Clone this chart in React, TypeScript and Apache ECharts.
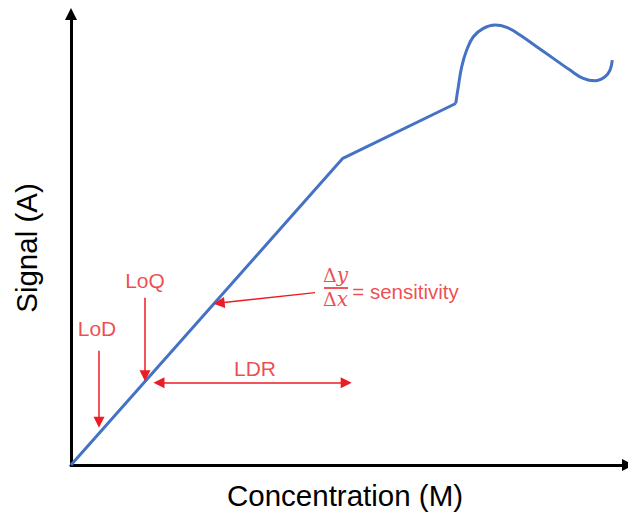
import React, { useEffect, useRef } from "react";
import * as echarts from "echarts";

// Response curve (arbitrary units, 0..100 on both axes)
const linearPart: [number, number][] = [
  [0, 0],
  [48.8, 68],
  [69.07, 80.16],
];
const curvedPart: [number, number][] = [
  [69.07, 80.16],
  [69.53, 83.84],
  [70.14, 88.29],
  [71.04, 92.0],
  [72.23, 94.96],
  [74.02, 96.82],
  [76.12, 97.56],
  [78.22, 97.04],
  [80.61, 95.33],
  [83.61, 92.73],
  [86.59, 90.16],
  [89.59, 87.56],
  [91.97, 85.71],
  [94.08, 85.18],
  [95.87, 86.07],
  [96.77, 87.56],
  [97.18, 89.78],
];

// Annotation arrows: [from, to(tip)]
const singleArrows: [number, number][][] = [
  [[5.03, 25.33], [5.03, 9.5]],
  [[13.29, 37.11], [13.29, 19.8]],
  [[43.81, 38.22], [26.6, 35.9]],
];
const doubleArrow: [number, number][] = [
  [15.8, 18.22],
  [49.4, 18.22],
];
const fractionBar: [number, number][] = [
  [45.42, 39.33],
  [49.73, 39.33],
];

// Annotation labels
const centerLabels = [
  { name: "LoD", pos: [4.67, 30.22] },
  { name: "LoQ", pos: [13.29, 40.89] },
  { name: "LDR", pos: [33.03, 21.33] },
];
const fractionNumerator = { sym: "Δ", v: "y", pos: [47.5, 42.2] };
const fractionDenominator = { sym: "Δ", v: "x", pos: [47.5, 36.9] };
const sensitivityLabel = { text: "= sensitivity", pos: [50.5, 38.4] };

const xName = "Concentration (M)";
const yName = "Signal (A)";

const RED = "#EC1C24";
const BLUE = "#4472C4";
const FONT = "'Liberation Sans', Arial, sans-serif";

export default function App() {
  const ref = useRef<HTMLDivElement>(null);
  useEffect(() => {
    if (!ref.current) return;
    const chart = echarts.init(ref.current, undefined, { renderer: "svg" });
    const axisCommon = {
      type: "value" as const,
      min: 0,
      max: 100,
      splitLine: { show: false },
      axisTick: { show: false },
      axisLabel: { show: false },
      axisLine: {
        show: true,
        symbol: ["none", "triangle"],
        symbolSize: [12, 12],
        lineStyle: { color: "#000", width: 3 },
      },
    };
    chart.setOption({
      animation: false,
      backgroundColor: "#fff",
      grid: { left: 71, right: 0, top: 14, bottom: 48 },
      xAxis: { ...axisCommon },
      yAxis: { ...axisCommon },
      graphic: [
        {
          type: "text",
          x: 345,
          y: 495,
          style: {
            text: xName,
            fill: "#000",
            fontSize: 29.5,
            fontFamily: FONT,
            align: "center",
            verticalAlign: "middle",
          },
        },
        {
          type: "text",
          x: 26,
          y: 248,
          rotation: Math.PI / 2,
          style: {
            text: yName,
            fill: "#000",
            fontSize: 29.5,
            fontFamily: FONT,
            align: "center",
            verticalAlign: "middle",
          },
        },
      ],
      series: [
        {
          type: "line",
          data: linearPart,
          symbol: "none",
          lineStyle: { color: BLUE, width: 3 },
          z: 3,
        },
        {
          type: "line",
          data: curvedPart,
          smooth: 0.4,
          symbol: "none",
          lineStyle: { color: BLUE, width: 3 },
          z: 3,
        },
        {
          type: "line",
          data: [],
          markLine: {
            silent: true,
            symbol: ["none", "triangle"],
            symbolSize: 11,
            label: { show: false },
            lineStyle: { color: RED, width: 1.5, type: "solid" },
            data: singleArrows.map((a) => [{ coord: a[0] }, { coord: a[1] }]),
          },
        },
        {
          type: "line",
          data: [],
          markLine: {
            silent: true,
            symbol: ["triangle", "triangle"],
            symbolSize: 11,
            label: { show: false },
            lineStyle: { color: RED, width: 1.5, type: "solid" },
            data: [[{ coord: doubleArrow[0] }, { coord: doubleArrow[1] }]],
          },
        },
        {
          type: "line",
          data: [],
          markLine: {
            silent: true,
            symbol: ["none", "none"],
            label: { show: false },
            lineStyle: { color: RED, width: 1.5, type: "solid" },
            data: [[{ coord: fractionBar[0] }, { coord: fractionBar[1] }]],
          },
        },
        {
          type: "scatter",
          symbolSize: 0,
          silent: true,
          data: centerLabels.map((l) => ({ name: l.name, value: l.pos })),
          label: {
            show: true,
            position: "inside",
            formatter: "{b}",
            color: RED,
            fontSize: 21,
            fontFamily: FONT,
          },
        },
        {
          type: "scatter",
          symbolSize: 0,
          silent: true,
          data: [fractionNumerator, fractionDenominator].map((f) => ({
            name: f.sym + "|" + f.v,
            value: f.pos,
          })),
          label: {
            show: true,
            position: "inside",
            formatter: (p: any) => {
              const [s, v] = String(p.name).split("|");
              return `{d|${s}}{v|${v}}`;
            },
            rich: {
              d: { color: RED, fontSize: 19, fontFamily: "'DejaVu Serif', serif" },
              v: {
                color: RED,
                fontSize: 20,
                fontStyle: "italic",
                fontFamily: "'DejaVu Serif', serif",
              },
            },
          },
        },
        {
          type: "scatter",
          symbolSize: 0,
          silent: true,
          data: [{ name: sensitivityLabel.text, value: sensitivityLabel.pos }],
          label: {
            show: true,
            position: "right",
            distance: 0,
            formatter: "{b}",
            color: RED,
            fontSize: 20.5,
            fontFamily: FONT,
          },
        },
      ],
    });
    return () => chart.dispose();
  }, []);
  return (
    <div
      ref={ref}
      style={{ position: "fixed", left: 0, top: 0, width: 628, height: 513 }}
    />
  );
}
